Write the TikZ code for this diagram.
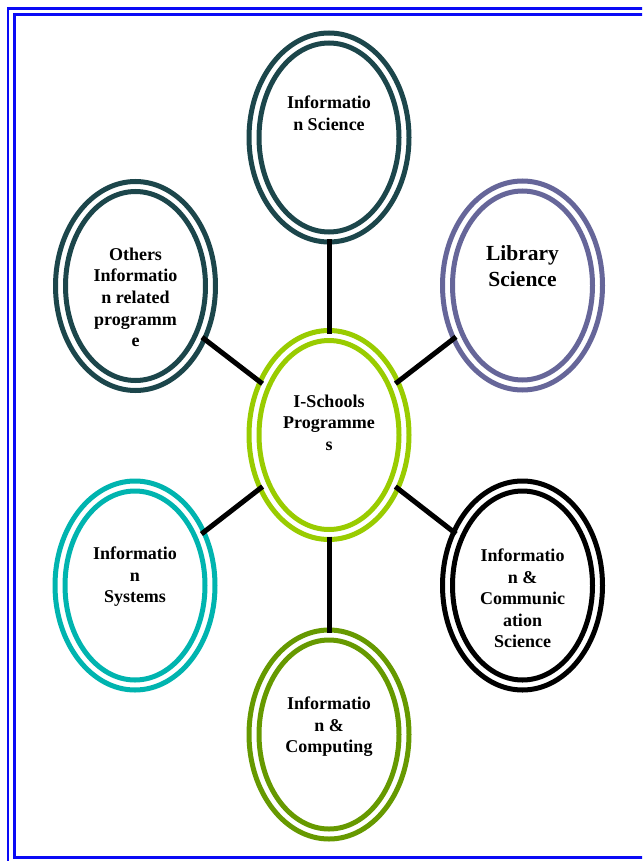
\documentclass[tikz,border=0pt]{standalone}
\usepackage{fontspec}
\setmainfont{Liberation Serif}
\usetikzlibrary{shapes.geometric}
\definecolor{darkteal}{RGB}{28,70,75}
\definecolor{lilac}{RGB}{102,102,153}
\definecolor{lime}{RGB}{153,204,0}
\definecolor{aqua}{RGB}{0,180,175}
\definecolor{olive}{RGB}{102,153,0}
\definecolor{frameblue}{RGB}{10,10,245}
\tikzset{
  ringout/.style={ellipse, draw, line width=5pt, minimum width=160pt, minimum height=209pt, inner sep=0pt, outer sep=0pt},
  ringin/.style={ellipse, draw, line width=5pt, minimum width=140pt, minimum height=189pt, inner sep=0pt, outer sep=0pt},
  lbl/.style={anchor=north, align=center, inner sep=0pt, font=\bfseries\fontsize{18}{21.6}\selectfont},
  biglbl/.style={anchor=north, align=center, inner sep=0pt, font=\bfseries\fontsize{21.5}{25.7}\selectfont},
  conn/.style={line width=5pt, black, shorten <=-3pt, shorten >=-3pt},
  frameout/.style={draw=frameblue, line width=2.5pt},
  framein/.style={draw=frameblue, line width=3pt}
}
\begin{document}
\begin{tikzpicture}[x=1pt, y=-1pt]
\useasboundingbox (0,0) rectangle (642,861);
\clip (0,0) rectangle (642,861);
\fill[white] (0,0) rectangle (642,861);
% frame
\draw[frameout] (8,8.5) rectangle (700,900);
\draw[framein] (14,14.2) rectangle (700,857);
% rings
\node[ringout, draw=darkteal] (infosci) at (329,137.5) {};
\node[ringin, draw=darkteal] (infosciI) at (329,137.5) {};
\node[ringout, draw=darkteal] (others) at (135.5,286) {};
\node[ringin, draw=darkteal] (othersI) at (135.5,286) {};
\node[ringout, draw=lilac] (lib) at (522.5,285.5) {};
\node[ringin, draw=lilac] (libI) at (522.5,285.5) {};
\node[ringout, draw=lime] (center) at (329,435) {};
\node[ringin, draw=lime] (centerI) at (329,435) {};
\node[ringout, draw=aqua] (infosys) at (135,585.5) {};
\node[ringin, draw=aqua] (infosysI) at (135,585.5) {};
\node[ringout, draw=black] (ics) at (522.5,585.5) {};
\node[ringin, draw=black] (icsI) at (522.5,585.5) {};
\node[ringout, draw=olive] (comp) at (329,734.5) {};
\node[ringin, draw=olive] (compI) at (329,734.5) {};
% connectors
\draw[conn] (center) -- (infosci);
\draw[conn] (center) -- (others);
\draw[conn] (center) -- (lib);
\draw[conn] (center) -- (infosys);
\draw[conn] (center) -- (ics);
\draw[conn] (center) -- (comp);
% labels
\node[lbl] (infosciT) at (329,96) {Informatio\\n Science};
\node[lbl] (othersT) at (135.5,247.6) {Others\\Informatio\\n related\\programm\\e};
\node[biglbl] (libT) at (522.5,245.4) {Library\\Science};
\node[lbl] (centerT) at (329,394.6) {I-Schools\\Programme\\s};
\node[lbl] (infosysT) at (135,546.6) {Informatio\\n\\Systems};
\node[lbl] (icsT) at (522.5,548.6) {Informatio\\n \&\\Communic\\ation\\Science};
\node[lbl] (compT) at (329,696.6) {Informatio\\n \&\\Computing};
\end{tikzpicture}
\end{document}
